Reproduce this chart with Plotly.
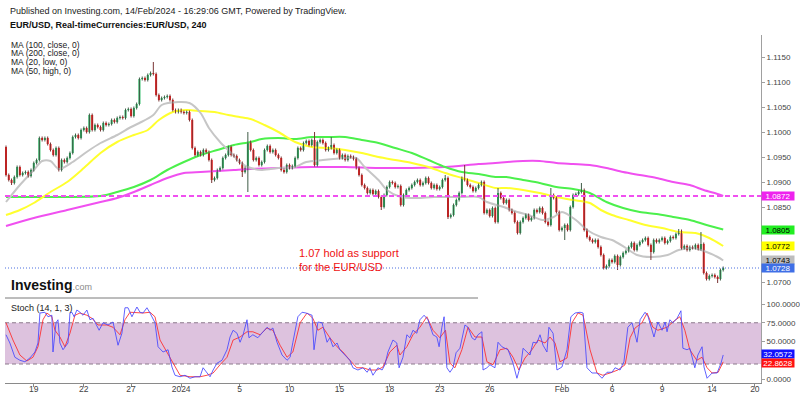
import plotly.graph_objects as go

# ---------------- data ----------------
first_open = 1.0970
closes = [
    1.0914, 1.0904, 1.0898, 1.0910, 1.0930, 1.0914, 1.0918, 1.0920, 1.0912, 1.0924,
    1.0938, 1.0944, 1.0988, 1.0984, 1.0988, 1.0976, 1.0964, 1.0954, 1.0968, 1.0924,
    1.0944, 1.0940, 1.0948, 1.0958, 1.0990, 1.0994, 1.0988, 1.1004, 1.1008, 1.1000,
    1.1034, 1.1004, 1.1014, 1.1010, 1.1004, 1.1018, 1.1014, 1.1016, 1.1024, 1.1020,
    1.1028, 1.1030, 1.1028, 1.1044, 1.1046, 1.1032, 1.1048, 1.1056, 1.1106, 1.1108,
    1.1104, 1.1114, 1.1118, 1.1116, 1.1074, 1.1064, 1.1068, 1.1070, 1.1072, 1.1064,
    1.1044, 1.1040, 1.1044, 1.1040, 1.1038, 1.1040, 1.1024, 1.0968, 1.0954, 1.0960,
    1.0954, 1.0964, 1.0960, 1.0944, 1.0904, 1.0908, 1.0924, 1.0928, 1.0948, 1.0954,
    1.0970, 1.0954, 1.0952, 1.0944, 1.0938, 1.0920, 1.0928, 1.0980, 1.0964, 1.0944,
    1.0948, 1.0934, 1.0940, 1.0964, 1.0972, 1.0960, 1.0964, 1.0954, 1.0948, 1.0924,
    1.0920, 1.0934, 1.0928, 1.0932, 1.0948, 1.0968, 1.0964, 1.0978, 1.0982, 1.0974,
    1.0984, 1.0934, 1.0980, 1.0984, 1.0978, 1.0964, 1.0968, 1.0974, 1.0958, 1.0964,
    1.0948, 1.0954, 1.0944, 1.0952, 1.0950, 1.0946, 1.0928, 1.0914, 1.0894, 1.0888,
    1.0878, 1.0884, 1.0876, 1.0882, 1.0870, 1.0850, 1.0874, 1.0890, 1.0900, 1.0898,
    1.0890, 1.0892, 1.0854, 1.0874, 1.0884, 1.0888, 1.0894, 1.0900, 1.0904, 1.0894,
    1.0898, 1.0908, 1.0898, 1.0888, 1.0894, 1.0886, 1.0890, 1.0904, 1.0908, 1.0830,
    1.0834, 1.0854, 1.0864, 1.0878, 1.0908, 1.0904, 1.0894, 1.0890, 1.0882, 1.0888,
    1.0894, 1.0900, 1.0838, 1.0844, 1.0832, 1.0848, 1.0820, 1.0878, 1.0868, 1.0858,
    1.0864, 1.0844, 1.0838, 1.0820, 1.0798, 1.0820, 1.0828, 1.0834, 1.0824, 1.0828,
    1.0844, 1.0840, 1.0848, 1.0838, 1.0820, 1.0814, 1.0874, 1.0868, 1.0840, 1.0804,
    1.0808, 1.0814, 1.0804, 1.0850, 1.0874, 1.0876, 1.0880, 1.0884, 1.0804, 1.0790,
    1.0784, 1.0780, 1.0784, 1.0770, 1.0754, 1.0728, 1.0732, 1.0744, 1.0740, 1.0752,
    1.0734, 1.0750, 1.0758, 1.0762, 1.0770, 1.0778, 1.0764, 1.0774, 1.0780, 1.0784,
    1.0788, 1.0774, 1.0760, 1.0784, 1.0780, 1.0784, 1.0788, 1.0778, 1.0782, 1.0790,
    1.0788, 1.0796, 1.0802, 1.0768, 1.0772, 1.0764, 1.0770, 1.0768, 1.0774, 1.0766,
    1.0776, 1.0718, 1.0706, 1.0712, 1.0714, 1.0710, 1.0706, 1.0724, 1.0728,
]
default_wick_pips = 3
upper_wick_pips = {53: 22, 87: 20, 111: 16, 117: 16, 158: 6, 165: 26, 177: 10,
                   196: 14, 207: 14, 242: 4, 250: 24}
lower_wick_pips = {2: 4, 74: 6, 85: 10, 87: 48, 135: 6, 159: 4, 201: 24,
                   220: 10, 232: 16, 256: 8}

ma20_low_idx = [0, 5, 10, 13, 16, 19, 24, 29, 34, 40, 45, 48, 53, 56, 62, 66, 70, 73, 77,
                81, 84, 87, 92, 98, 104, 108, 114, 122, 126, 129, 134, 137, 142, 148, 154,
                164, 170, 173, 179, 184, 188, 193, 197, 200, 205, 209, 214, 218, 223, 227,
                232, 238, 242, 247, 252, 256, 258]
ma20_low_val = [1.0860, 1.0894, 1.0924, 1.0942, 1.0942, 1.0926, 1.0940, 1.0960, 1.0978,
                1.0994, 1.1010, 1.1018, 1.1034, 1.1054, 1.1060, 1.1058, 1.1038, 1.1008,
                1.0980, 1.0958, 1.0940, 1.0930, 1.0924, 1.0928, 1.0930, 1.0940, 1.0944,
                1.0948, 1.0948, 1.0930, 1.0904, 1.0884, 1.0870, 1.0868, 1.0870, 1.0870,
                1.0870, 1.0860, 1.0850, 1.0840, 1.0834, 1.0824, 1.0830, 1.0840, 1.0824,
                1.0804, 1.0790, 1.0784, 1.0768, 1.0754, 1.0750, 1.0754, 1.0764, 1.0768,
                1.0760, 1.0750, 1.0743]

ma50_high_idx = [0, 5, 10, 16, 22, 28, 34, 40, 46, 51, 55, 60, 65, 70, 75, 80, 84, 88, 93,
                 98, 104, 110, 116, 122, 128, 134, 140, 146, 152, 158, 164, 170, 176, 180,
                 186, 192, 198, 204, 210, 214, 218, 224, 230, 236, 242, 248, 253, 258]
ma50_high_val = [1.0834, 1.0844, 1.0858, 1.0880, 1.0900, 1.0928, 1.0958, 1.0980, 1.0994,
                 1.1004, 1.1024, 1.1040, 1.1044, 1.1042, 1.1040, 1.1034, 1.1030, 1.1026,
                 1.1014, 1.1000, 1.0980, 1.0970, 1.0968, 1.0964, 1.0958, 1.0950, 1.0944,
                 1.0938, 1.0930, 1.0918, 1.0908, 1.0898, 1.0888, 1.0888, 1.0884, 1.0878,
                 1.0870, 1.0864, 1.0858, 1.0844, 1.0834, 1.0824, 1.0814, 1.0808, 1.0800,
                 1.0798, 1.0788, 1.0772]

ma100_close_idx = [0, 10, 22, 34, 40, 46, 52, 58, 64, 70, 76, 82, 88, 92, 98, 104, 110, 116,
                   122, 128, 134, 140, 146, 152, 158, 164, 170, 176, 180, 186, 192, 198,
                   204, 210, 216, 222, 228, 234, 240, 246, 252, 258]
ma100_close_val = [1.0870, 1.0870, 1.0870, 1.0872, 1.0880, 1.0890, 1.0904, 1.0924, 1.0940,
                   1.0954, 1.0964, 1.0974, 1.0980, 1.0986, 1.0988, 1.0986, 1.0990, 1.0990,
                   1.0990, 1.0984, 1.0978, 1.0968, 1.0958, 1.0944, 1.0930, 1.0920, 1.0916,
                   1.0910, 1.0910, 1.0904, 1.0898, 1.0890, 1.0886, 1.0878, 1.0860, 1.0848,
                   1.0840, 1.0836, 1.0830, 1.0824, 1.0814, 1.0805]

ma200_close_idx = [0, 10, 22, 34, 40, 46, 52, 58, 64, 70, 76, 82, 88, 98, 110, 122, 134,
                   146, 158, 170, 176, 186, 192, 198, 204, 210, 216, 222, 228, 234, 240,
                   246, 251, 256, 258]
ma200_close_val = [1.0812, 1.0828, 1.0844, 1.0860, 1.0868, 1.0880, 1.0894, 1.0908, 1.0918,
                   1.0920, 1.0922, 1.0924, 1.0926, 1.0928, 1.0930, 1.0930, 1.0928, 1.0928,
                   1.0930, 1.0936, 1.0938, 1.0942, 1.0942, 1.0938, 1.0936, 1.0934, 1.0928,
                   1.0920, 1.0914, 1.0908, 1.0900, 1.0894, 1.0884, 1.0876, 1.0872]

stoch_k_idx = [0, 1.4, 3.2, 5, 6.8, 8.6, 10.4, 11.5, 12.2, 14, 15.1, 16.5, 16.9, 18, 18.7,
               19.4, 20.5, 21.6, 22.3, 23, 23.7, 24.5, 25.5, 26.6, 27.7, 29.1, 30.2, 31.3,
               32.7, 33.5, 34.9, 36.7, 38.5, 40.3, 41.7, 42.8, 43.9, 45.3, 47.1, 48.2, 49.3,
               50.7, 51.8, 53.6, 54.7, 56.5, 58.3, 59.7, 60.8, 62.6, 64.4, 66.2, 68, 69.8,
               70.9, 72.3, 73.4, 74.5, 75.9, 77.7, 79.5, 80.6, 81.7, 83.1, 84.2, 85.3, 86.7,
               87.4, 88.8, 90.6, 92.4, 93.9, 95, 96, 97.5, 99.3, 101.1, 102.2, 103.2, 105,
               106.5, 107.9, 110.1, 110.8, 112.2, 113.7, 115.5, 116.5, 117.6, 119.1, 120.1,
               121.9, 123.7, 124.8, 126.6, 128.4, 129.9, 130.9, 132, 133.8, 135.3, 136.3,
               137.4, 139.2, 140.6, 141.4, 142.8, 144.2, 145.3, 146.4, 147.8, 148.9, 150.4,
               151.8, 153.6, 155, 155.8, 156.8, 157.6, 158.6, 159.7, 160.8, 161.9, 163.3,
               165.1, 166.2, 167.6, 168.7, 169.8, 171.2, 171.6, 173, 174.1, 175.9, 177,
               178.4, 179.5, 180.6, 182.4, 183.8, 185.3, 186, 187.4, 188.5, 189.6, 191,
               192.1, 193.2, 194.6, 195.3, 196.8, 197.5, 198.2, 200, 201.8, 203.2, 204.7,
               206.5, 207.6, 209, 210.8, 212.6, 214.4, 216.2, 218, 219.1, 220.9, 222.3,
               223.7, 225.2, 226.3, 227, 228.1, 229.9, 231, 232.4, 233.1, 234.5, 236, 237.1,
               237.8, 238.8, 239.9, 241.4, 242.8, 243.5, 245, 246, 247.8, 248.9, 250.4,
               251.1, 252.2, 254, 255.8, 257.2, 258]
stoch_k_val = [59, 48, 29, 25, 23, 28, 36, 48, 88, 89, 83, 85, 36, 75, 79,
               48, 39, 45, 48, 88, 89, 83, 92, 89, 85, 92, 79, 81,
               72, 65, 75, 72, 76, 45, 61, 95, 95, 83, 96, 89, 88,
               95, 88, 75, 43, 36, 39, 16, 5, 3, 5, 1, 3, 3,
               15, 9, 3, 12, 21, 25, 39, 56, 65, 61, 49, 59, 79,
               55, 59, 55, 63, 69, 65, 68, 49, 32, 25, 29, 49, 83,
               89, 88, 85, 39, 76, 75, 49, 55, 43, 48, 39,
               32, 25, 15, 12, 15, 9, 15, 5, 15, 12, 19,
               36, 52, 48, 15, 29, 59, 55, 65, 61, 79, 85,
               79, 59, 56, 43, 69, 83, 15, 9, 15, 35, 41,
               72, 69, 55, 52, 59, 63, 12, 15, 19, 15, 49,
               43, 41, 39, 21, 1, 21, 41, 36, 32, 49, 48,
               59, 45, 36, 69, 61, 35, 12, 16, 39, 83, 88,
               89, 88, 15, 8, 8, 1, 9, 9, 15, 12, 23,
               69, 75, 61, 49, 79, 89, 83, 65, 56, 76, 65, 76,
               63, 79, 75, 81, 91, 41, 39, 41, 15, 32, 43,
               16, 1, 8, 8, 21, 32.0572]

stoch_d_idx = [0, 2.5, 5, 7.5, 9.7, 11.5, 13.3, 14.7, 16.5, 17.6, 19.4, 21.2, 23, 24.8,
               26.6, 29.1, 30.9, 33.1, 36.3, 38.5, 41, 42.8, 44.6, 47.1, 49.3, 51.8, 53.6,
               55.4, 57.9, 60.1, 62.6, 66.2, 69.8, 72.3, 74.5, 77, 79.5, 81.7, 84.2, 86.7,
               88.8, 91.4, 93.9, 96, 98.6, 101.1, 103.2, 105.8, 108.3, 110.4, 112.2, 114,
               116.5, 119.1, 121.2, 123.7, 126.2, 128.4, 130.9, 133.5, 135.6, 138.1, 140.6,
               141.7, 144.2, 146.4, 148.9, 151.4, 153.6, 156.1, 158.1, 159.7, 161.5, 164,
               166.2, 168.7, 171.2, 173, 175.2, 177.7, 180.2, 182.4, 184.5, 186.7, 189.2,
               191.4, 193.9, 195.7, 197.5, 199.3, 201.8, 203.6, 205.8, 207.6, 210.1, 212.6,
               214.7, 217.3, 220.1, 222.7, 224.5, 226.3, 228.8, 230.6, 232.7, 234.5, 237.8,
               239.9, 242.4, 244.2, 246, 248.5, 250.4, 252.2, 254, 256.2, 258]
stoch_d_val = [75, 52, 32, 24, 29, 43, 79, 88, 83, 65, 56, 43, 61, 85,
               88, 85, 81, 72, 72, 69, 59, 79, 89, 88, 88, 89, 83,
               52, 36, 21, 5, 3, 3, 5, 8, 19, 29, 52, 56, 63,
               63, 59, 68, 65, 45, 29, 36, 75, 88, 81, 65, 69,
               55, 43, 36, 25, 15, 15, 12, 12, 16, 36, 45,
               32, 43, 59, 69, 83, 65, 55, 65, 21, 15, 39,
               69, 56, 56, 23, 19, 39, 41, 29, 12, 28, 39,
               52, 48, 56, 48, 23, 28, 75, 88, 85, 39, 8,
               5, 8, 12, 19, 55, 68, 75, 88, 69, 65, 69,
               76, 83, 65, 39, 25, 29, 15, 8, 9, 22.8628]

date_tick_idx = [10, 28, 45, 63, 84, 102, 120, 138, 156, 174, 200, 218, 236, 254, 269.4]
date_tick_text = ["19", "22", "27", "2024", "5", "10", "15", "18", "23", "26", "Feb",
                  "6", "9", "14", "20"]
price_ticks = [1.0700, 1.0850, 1.0900, 1.0950, 1.1000, 1.1050, 1.1100, 1.1150]
stoch_ticks = [0, 50, 75, 100]
stoch_lower_band = 20
stoch_upper_band = 75

# ---------------- derived OHLC ----------------
n = len(closes)
idx = list(range(n))
opens = [first_open] + closes[:-1]
highs = [max(o, c) + upper_wick_pips.get(i, default_wick_pips) / 10000
         for i, (o, c) in enumerate(zip(opens, closes))]
lows = [min(o, c) - lower_wick_pips.get(i, default_wick_pips) / 10000
        for i, (o, c) in enumerate(zip(opens, closes))]
up = [i for i in idx if closes[i] >= opens[i]]
dn = [i for i in idx if closes[i] < opens[i]]

UP_BODY, DN_BODY = "#1fb65b", "#ff1414"
UP_WICK, DN_WICK = "#3f5c47", "#7a3434"
GRAY_MA, YELLOW_MA, GREEN_MA, MAGENTA_MA = "#c6c6c6", "#ffff2e", "#4cf04c", "#f050f0"
FONT = "Liberation Sans, Arial, sans-serif"

fig = go.Figure()


def wick_xy(sel):
    xs, ys = [], []
    for i in sel:
        xs += [i, i, None]
        ys += [lows[i], highs[i], None]
    return xs, ys


# moving averages (drawn below candles)
for xs, ys, col in [(ma200_close_idx, ma200_close_val, MAGENTA_MA),
                    (ma100_close_idx, ma100_close_val, GREEN_MA),
                    (ma50_high_idx, ma50_high_val, YELLOW_MA),
                    (ma20_low_idx, ma20_low_val, GRAY_MA)]:
    fig.add_trace(go.Scatter(x=xs, y=ys, mode="lines",
                             line=dict(color=col, width=2, shape="spline", smoothing=0.8),
                             hoverinfo="skip", xaxis="x", yaxis="y"))

for sel, col in [(up, UP_WICK), (dn, DN_WICK)]:
    wx, wy = wick_xy(sel)
    fig.add_trace(go.Scatter(x=wx, y=wy, mode="lines", line=dict(color=col, width=1),
                             hoverinfo="skip", xaxis="x", yaxis="y"))

for sel, col in [(up, UP_BODY), (dn, DN_BODY)]:
    fig.add_trace(go.Bar(x=sel, base=[min(opens[i], closes[i]) for i in sel],
                         y=[max(abs(closes[i] - opens[i]), 0.00006) for i in sel],
                         width=0.72, marker=dict(color=col, line=dict(width=0)),
                         hoverinfo="skip", xaxis="x", yaxis="y"))

# stochastic
fig.add_trace(go.Scatter(x=stoch_d_idx, y=stoch_d_val, mode="lines",
                         line=dict(color="rgba(255,40,40,0.85)", width=1),
                         hoverinfo="skip", xaxis="x", yaxis="y2"))
fig.add_trace(go.Scatter(x=stoch_k_idx, y=stoch_k_val, mode="lines",
                         line=dict(color="rgba(70,70,255,0.85)", width=1),
                         hoverinfo="skip", xaxis="x", yaxis="y2"))

# geometry
TOP_PX, BOT_PX, SPLIT_PX = 35, 383, 298
split = (BOT_PX - SPLIT_PX) / (BOT_PX - TOP_PX)

axis_common = dict(showgrid=False, zeroline=False, showline=True, automargin=False,
                   ticks="outside", ticklen=3)

fig.update_layout(
    width=800, height=399, margin=dict(l=5, r=39, t=TOP_PX, b=399 - BOT_PX, autoexpand=False),
    plot_bgcolor="white", paper_bgcolor="white", showlegend=False, barmode="overlay",
    font=dict(family=FONT, size=9, color="#333"),
    xaxis=dict(range=[-0.36, 271.6], anchor="y2", domain=[0, 1], tickvals=date_tick_idx,
               ticktext=date_tick_text, linecolor="#8a8a8a", tickcolor="#8a8a8a",
               ticklabelstandoff=-5,
               tickfont=dict(size=8.5, color="#444"), rangeslider=dict(visible=False),
               **axis_common),
    yaxis=dict(domain=[split, 1], range=[1.0668, 1.1194], side="right", anchor="x",
               tickvals=price_ticks, ticktext=[f"{v:.4f}" for v in price_ticks],
               linecolor="#a0a0a0", tickcolor="#a0a0a0", tickfont=dict(size=8, color="#444"),
               **axis_common),
    yaxis2=dict(domain=[0, split], range=[-5.33, 108], side="right", anchor="x",
                tickvals=stoch_ticks, ticktext=[f"{v:.4f}" for v in stoch_ticks],
                linecolor="#a0a0a0", tickcolor="#a0a0a0", tickfont=dict(size=8, color="#444"),
                **axis_common),
)

# stoch band
fig.add_shape(type="rect", xref="paper", x0=0, x1=1, yref="y2", y0=stoch_lower_band,
              y1=stoch_upper_band, fillcolor="#ddc2de", line=dict(width=0), layer="below")
for lvl in (stoch_lower_band, stoch_upper_band):
    fig.add_shape(type="line", xref="paper", x0=0, x1=1, yref="y2", y0=lvl, y1=lvl,
                  line=dict(color="#8c7a8c", width=1, dash="4px,3px"), layer="below")

# horizontal level lines
fig.add_shape(type="line", xref="paper", x0=0, x1=1, yref="y", y0=ma200_close_val[-1],
              y1=ma200_close_val[-1], line=dict(color=MAGENTA_MA, width=2, dash="5px,3px"))
fig.add_shape(type="line", xref="paper", x0=0, x1=1, yref="y", y0=closes[-1],
              y1=closes[-1], line=dict(color="#4a6fe0", width=1, dash="1px,2px"))
# pane separator
fig.add_shape(type="line", xref="paper", x0=0, x1=(478 - 5) / 756, yref="paper",
              y0=split, y1=split, line=dict(color="#7a7a7a", width=1))


def side_label(val, yref, text, bg, fg, shift=0):
    fig.add_annotation(x=1, xref="paper", xanchor="left", y=val, yref=yref, yanchor="middle",
                       yshift=shift, text=text, showarrow=False, bgcolor=bg, width=32, height=8,
                       font=dict(family=FONT, size=8, color=fg), borderpad=0, align="center")


side_label(ma200_close_val[-1], "y", f"{ma200_close_val[-1]:.4f}", "#ee22ee", "white")
side_label(ma100_close_val[-1], "y", f"{ma100_close_val[-1]:.4f}", "#22ee22", "black")
side_label(ma50_high_val[-1], "y", f"{ma50_high_val[-1]:.4f}", "#ffff00", "black")
side_label(ma20_low_val[-1], "y", f"{ma20_low_val[-1]:.4f}", "#bdbdbd", "black", 1)
side_label(closes[-1], "y", f"{closes[-1]:.4f}", "#3f6fe6", "white")
side_label(stoch_k_val[-1], "y2", f"{stoch_k_val[-1]:.4f}", "#1010ff", "white", 1)
side_label(stoch_d_val[-1], "y2", f"{stoch_d_val[-1]:.4f}", "#ff1010", "white", -1)


def py(px):
    return (BOT_PX - px) / (BOT_PX - TOP_PX)


def px_x(px):
    return (px - 5) / 756


texts = [
    (9, 11, "Published on Investing.com, 14/Feb/2024 - 16:29:06 GMT, Powered by TradingView.", 9, "#222"),
    (9, 25, "<b>EUR/USD, Real-timeCurrencies:EUR/USD, 240</b>", 9, "#111"),
    (10, 45, "MA (100, close, 0)", 8.5, "#222"),
    (10, 53.5, "MA (200, close, 0)", 8.5, "#222"),
    (10, 62, "MA (20, low, 0)", 8.5, "#222"),
    (10, 70.5, "MA (50, high, 0)", 8.5, "#222"),
    (10, 308, "Stoch (14, 1, 3)", 9, "#222"),
]
for x, y, t, s, c in texts:
    fig.add_annotation(x=px_x(x), xref="paper", xanchor="left", y=py(y), yref="paper",
                       yanchor="middle", text=t, showarrow=False, borderpad=0,
                       font=dict(family=FONT, size=s, color=c))

fig.add_annotation(x=px_x(10), xref="paper", xanchor="left", y=py(285), yref="paper",
                   yanchor="middle", showarrow=False, borderpad=0,
                   text="<b>Investing</b><span style='font-size:9px;color:#8a8a8a'>.com</span>",
                   font=dict(family=FONT, size=14, color="#111"))

fig.add_annotation(x=105, xref="x", xanchor="left", y=1.0745, yref="y", yanchor="middle",
                   showarrow=False, align="left", borderpad=0,
                   text="1.07 hold as support<br>for the EUR/USD",
                   font=dict(family=FONT, size=11, color="#ee1111"))

fig.write_html("out.html", config={"displayModeBar": False},
               post_script="document.body.style.margin='0';document.body.style.overflow='hidden';")
